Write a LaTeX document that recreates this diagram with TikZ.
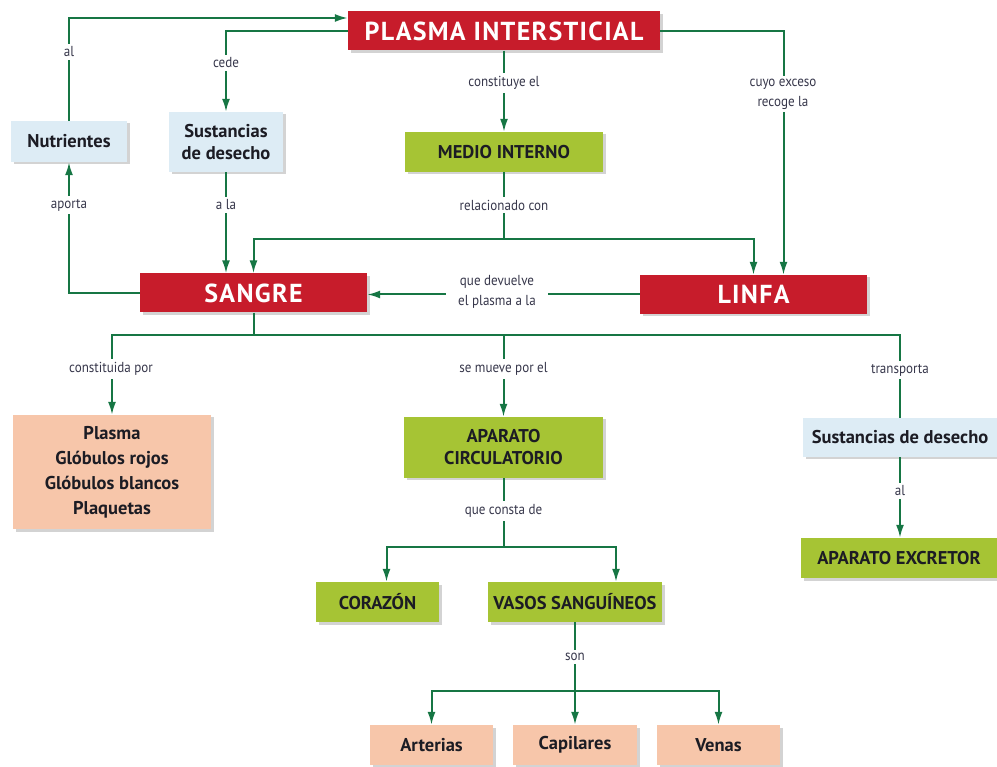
\documentclass[tikz,border=0pt]{standalone}
\usepackage{fontspec}
\setsansfont{PT Sans}
\newfontfamily\lblfont[FakeStretch=0.9]{PT Sans}
\usetikzlibrary{arrows.meta,shadows}
\definecolor{plasmared}{RGB}{199,28,43}
\definecolor{limegreen}{RGB}{166,196,52}
\definecolor{paleblue}{RGB}{221,236,245}
\definecolor{peach}{RGB}{247,198,170}
\definecolor{flowgreen}{RGB}{22,118,68}
\definecolor{lbltext}{RGB}{55,55,75}
\definecolor{boxtext}{RGB}{28,28,36}

\begin{document}
\begin{tikzpicture}[x=1pt, y=-1pt,
    box/.style={inner sep=2pt, align=center, text=boxtext,
      font=\sffamily\bfseries\fontsize{18.5}{22}\selectfont,
      drop shadow={shadow xshift=2.5pt, shadow yshift=-2.5pt, opacity=0.35}},
    redbox/.style={box, fill=plasmared, text=white, minimum height=39pt,
      font=\sffamily\bfseries\fontsize{26}{28}\selectfont\addfontfeature{LetterSpace=5}},
    greenbox/.style={box, fill=limegreen, minimum height=40pt},
    bluebox/.style={box, fill=paleblue},
    peachbox/.style={box, fill=peach, minimum width=123pt, minimum height=40pt},
    flow/.style={-{Latex[length=13pt, width=8pt]}, line width=2pt, flowgreen},
    link/.style={line width=2pt, flowgreen},
    lbl/.style={fill=white, inner sep=3pt, align=center, text=lbltext,
      font=\lblfont\fontsize{14.5}{20}\selectfont}
  ]
    \useasboundingbox (0,0) rectangle (997,767);

    \node[redbox, minimum width=312pt] (plasma) at (504,31) {PLASMA INTERSTICIAL};
    \node[bluebox, minimum width=116pt, minimum height=41pt] (nutri) at (69,141.5) {Nutrientes};
    \node[bluebox, minimum width=114pt, minimum height=60pt] (sust1) at (226,142) {Sustancias\\de desecho};
    \node[greenbox, minimum width=198pt] (medio) at (504,152) {MEDIO INTERNO};
    \node[redbox, minimum width=227pt] (sangre) at (253.5,293) {SANGRE};
    \node[redbox, minimum width=227pt] (linfa) at (753.5,294.5) {LINFA};

    \node[peachbox, minimum width=198pt, minimum height=114pt,
      font=\sffamily\bfseries\fontsize{18.5}{25}\selectfont] (comp) at (112,472)
      {Plasma\\Glóbulos rojos\\Glóbulos blancos\\Plaquetas};
    \node[greenbox, minimum width=199pt, minimum height=61pt] (circ) at (503.5,447.5) {APARATO\\CIRCULATORIO};
    \node[bluebox, minimum width=194pt, minimum height=39pt] (sust2) at (900,437.5) {Sustancias de desecho};
    \node[greenbox, minimum width=196pt] (excr) at (899,558) {APARATO EXCRETOR};

    \node[greenbox, minimum width=123pt] (cora) at (377.5,602) {CORAZÓN};
    \node[greenbox, minimum width=174pt] (vasos) at (575,602) {VASOS SANGUÍNEOS};

    \node[peachbox] (art) at (431.5,745) {Arterias};
    \node[peachbox, minimum width=124pt] (cap) at (575,745) {Capilares};
    \node[peachbox] (venas) at (718.5,745) {Venas};

    \coordinate (medjoin) at (504,239);
    \coordinate (sanjoin) at (253.5,335);
    \coordinate (circjoin) at (503.5,547);
    \coordinate (vasjoin) at (575,691);

    \draw[flow] (nutri.north) |- ([yshift=13pt]plasma.west);
    \draw[flow] (plasma.west) -| (sust1.north);
    \draw[flow] (plasma.south) -- (medio.north);
    \draw[flow] (plasma.east) -| ([xshift=30pt]linfa.north);
    \draw[flow] (sust1.south) -- (sust1.south |- sangre.north);
    \draw[flow] (sangre.west) -| (nutri.south);
    \draw[link] (medio.south) -- (medjoin);
    \draw[flow] (medjoin) -| (sangre.north);
    \draw[flow] (medjoin) -| (linfa.north);
    \draw[flow] (linfa.west) -- (linfa.west -| sangre.east);

    \draw[link] (sangre.south) -- (sanjoin);
    \draw[flow] (sanjoin) -| (comp.north);
    \draw[flow] (sanjoin) -| (circ.north);
    \draw[link] (sanjoin) -| (sust2.north);
    \draw[flow] (sust2.south) -- (sust2.south |- excr.north);

    \draw[link] (circ.south) -- (circjoin);
    \draw[flow] (circjoin) -| ([xshift=9pt]cora.north);
    \draw[flow] (circjoin) -| ([xshift=41pt]vasos.north);

    \draw[link] (vasos.south) -- (vasjoin);
    \draw[flow] (vasjoin) -| (art.north);
    \draw[flow] (vasjoin) -- (cap.north);
    \draw[flow] (vasjoin) -| (venas.north);

    \node[lbl] at (69,52) {al};
    \node[lbl] at (226,63) {cede};
    \node[lbl] at (504,83) {constituye el};
    \node[lbl] at (783,94) {cuyo exceso\\recoge la};
    \node[lbl] at (69,205) {aporta};
    \node[lbl] at (226,205) {a la};
    \node[lbl] at (504,205) {relacionado con};
    \node[lbl, inner xsep=12pt] at (497,292) {que devuelve\\el plasma a la};
    \node[lbl] at (111,369) {constituida por};
    \node[lbl] at (503.5,369) {se mueve por el};
    \node[lbl] at (900,370) {transporta};
    \node[lbl] at (900,491) {al};
    \node[lbl] at (503.5,511) {que consta de};
    \node[lbl] at (575,657) {son};
  \end{tikzpicture}
\end{document}
